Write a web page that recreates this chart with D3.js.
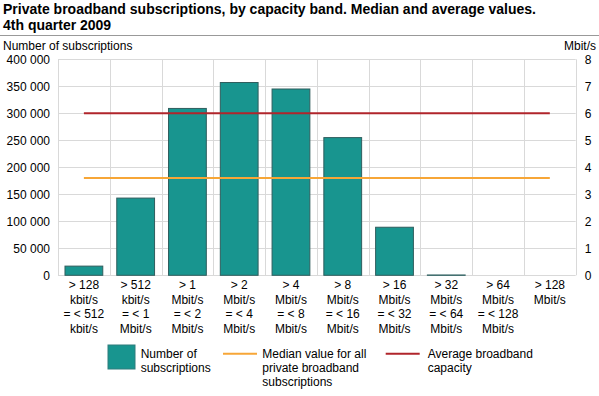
<!DOCTYPE html>
<html><head><meta charset="utf-8">
<script src="https://cdn.jsdelivr.net/npm/d3@7"></script>
<style>body{margin:0;background:#fff;} text{font-family:"Liberation Sans",Arial,sans-serif;}</style>
</head><body>
<script>
const categories = [
  ["> 128","kbit/s","= < 512","kbit/s"],
  ["> 512","kbit/s","= < 1","Mbit/s"],
  ["> 1","Mbit/s","= < 2","Mbit/s"],
  ["> 2","Mbit/s","= < 4","Mbit/s"],
  ["> 4","Mbit/s","= < 8","Mbit/s"],
  ["> 8","Mbit/s","= < 16","Mbit/s"],
  ["> 16","Mbit/s","= < 32","Mbit/s"],
  ["> 32","Mbit/s","= < 64","Mbit/s"],
  ["> 64","Mbit/s","= < 128","Mbit/s"],
  ["> 128","Mbit/s"]
];
const subscriptions = [17000, 143000, 309000, 357000, 345000, 255000, 89000, 600, 0, 0];
const medianValue = 3.6;
const averageValue = 6.0;
const leftTicks = [0,50000,100000,150000,200000,250000,300000,350000,400000];
const rightTicks = [0,1,2,3,4,5,6,7,8];
const titleLines = ["Private broadband subscriptions, by capacity band. Median and average values.","4th quarter 2009"];
const legendItems = [
  {type:"rect", lines:["Number of","subscriptions"]},
  {type:"median", lines:["Median value for all","private broadband","subscriptions"]},
  {type:"average", lines:["Average broadband","capacity"]}
];

(function(){
const W=599,H=396;
const svg=d3.select("body").append("svg").attr("width",W).attr("height",H);
const pLeft=58,pRight=575.7,pTop=59.3,pBottom=275.3;
const teal="#18958f", orange="#f7a637", red="#b0252b";

svg.selectAll(".title").data(titleLines).enter().append("text")
  .attr("x",3).attr("y",(d,i)=>14+i*16).attr("font-size",14).attr("font-weight","bold").attr("fill","#000").text(d=>d);
svg.append("line").attr("x1",0).attr("x2",W).attr("y1",35.5).attr("y2",35.5).attr("stroke","#999").attr("stroke-width",1);

svg.append("text").attr("x",3).attr("y",50).attr("font-size",12).text("Number of subscriptions");
svg.append("text").attr("x",596).attr("y",50).attr("font-size",12).attr("text-anchor","end").text("Mbit/s");

const x=d3.scaleBand().domain(d3.range(categories.length)).range([pLeft,pRight]).paddingInner(0.27).paddingOuter(0.135);
const xg=d3.scaleBand().domain(d3.range(categories.length)).range([pLeft,pRight]);
const y=d3.scaleLinear().domain([0,400000]).range([pBottom,pTop]);
const y2=d3.scaleLinear().domain([0,8]).range([pBottom,pTop]);

// grid
svg.append("g").selectAll("line").data(leftTicks).enter().append("line")
  .attr("x1",pLeft).attr("x2",pRight).attr("y1",d=>Math.round(y(d))+0.5).attr("y2",d=>Math.round(y(d))+0.5)
  .attr("stroke","#d9d9d9");
svg.append("g").selectAll("line").data(d3.range(categories.length+1)).enter().append("line")
  .attr("x1",d=>Math.round(pLeft+d*xg.step())+0.5).attr("x2",d=>Math.round(pLeft+d*xg.step())+0.5)
  .attr("y1",pTop).attr("y2",pBottom).attr("stroke","#d9d9d9");

// axes labels
const la=svg.append("g").attr("transform",`translate(${pLeft},0)`).call(d3.axisLeft(y).tickValues(leftTicks).tickSize(0).tickPadding(8)
  .tickFormat(d=>d3.format(",")(d).replace(/,/g," ")));
la.select(".domain").remove();
la.selectAll("text").attr("font-size",12).attr("font-family","Liberation Sans, Arial, sans-serif").attr("fill","#000").attr("dy","0.35em");
const ra=svg.append("g").attr("transform",`translate(${pRight},0)`).call(d3.axisRight(y2).tickValues(rightTicks).tickSize(0).tickPadding(9));
ra.select(".domain").remove();
ra.selectAll("text").attr("font-size",12).attr("font-family","Liberation Sans, Arial, sans-serif").attr("fill","#000").attr("dy","0.35em");

// bars
svg.append("g").selectAll("rect").data(subscriptions).enter().append("rect")
  .attr("x",(d,i)=>x(i)).attr("width",x.bandwidth())
  .attr("y",d=>y(d)).attr("height",d=>pBottom-y(d))
  .attr("fill",teal).attr("stroke","#2f5d5d").attr("stroke-width",1);

// lines
const cx=i=>xg(i)+xg.bandwidth()/2;
svg.append("line").attr("x1",cx(0)).attr("x2",cx(categories.length-1)).attr("y1",y2(medianValue)).attr("y2",y2(medianValue))
  .attr("stroke",orange).attr("stroke-width",2);
svg.append("line").attr("x1",cx(0)).attr("x2",cx(categories.length-1)).attr("y1",y2(averageValue)).attr("y2",y2(averageValue))
  .attr("stroke",red).attr("stroke-width",2);

// x labels
const xl=svg.append("g").selectAll("text").data(categories).enter().append("text")
  .attr("x",(d,i)=>cx(i)).attr("y",289).attr("text-anchor","middle").attr("font-size",12);
xl.selectAll("tspan").data(d=>d).enter().append("tspan")
  .attr("x",function(){return d3.select(this.parentNode).attr("x");})
  .attr("dy",(d,i)=>i===0?0:14.6).text(d=>d);

// legend
const lx=[108,223,385.7];
const lt=[140.7,262.3,427.7];
legendItems.forEach((it,k)=>{
  if(it.type==="rect"){
    svg.append("rect").attr("x",lx[k]).attr("y",345).attr("width",27).attr("height",24).attr("fill",teal).attr("stroke","#2f7d7d");
  } else {
    svg.append("line").attr("x1",lx[k]).attr("x2",lx[k]+34).attr("y1",353.7).attr("y2",353.7)
      .attr("stroke",it.type==="median"?orange:red).attr("stroke-width",2);
  }
  const t=svg.append("text").attr("x",lt[k]).attr("y",357.5).attr("font-size",12);
  t.selectAll("tspan").data(it.lines).enter().append("tspan").attr("x",lt[k]).attr("dy",(d,i)=>i===0?0:14.3).text(d=>d);
});
})();
</script>
</body></html>
